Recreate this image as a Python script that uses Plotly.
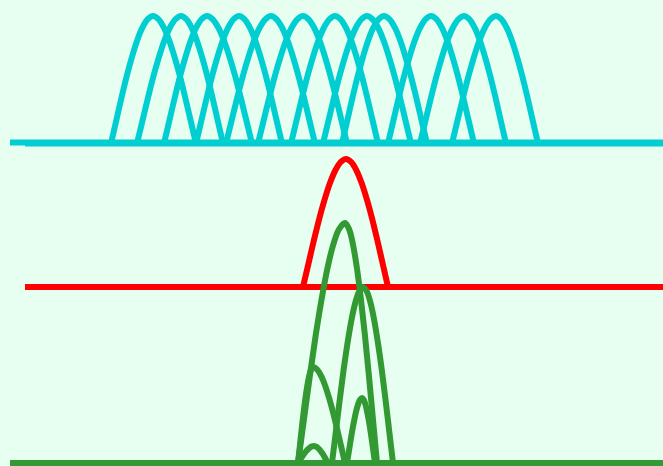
import plotly.graph_objects as go

# Canvas coordinates (x to the right, y downward)
W, H = 663, 466

# normalized half-bump profile (fraction of half-width -> fraction of height)
PROFILE_T = [0.0, 0.125, 0.25, 0.375, 0.5, 0.625, 0.75, 0.875, 1.0]
PROFILE_H = [0.0, 0.18, 0.36, 0.53, 0.68, 0.81, 0.91, 0.975, 1.0]

# Cyan row: baseline, peak height, bumps (left foot, peak x, right foot)
CYAN_BASE = 143.5
CYAN_AXIS = 142.5
CYAN_PEAK_Y = 16
CYAN_LEFT = [111, 137, 164, 196, 226, 258, 291, 323, 342, 388, 420, 452]
CYAN_PEAK = [153, 181, 207, 239, 271, 303, 335, 367, 384, 431, 464, 496]
CYAN_RIGHT = [196, 223, 252, 282, 315, 347, 378, 411, 427, 474, 506, 538]

# Red row
RED_BASE = 287
RED_PEAK_Y = 159
RED_LEFT = [303]
RED_PEAK = [346]
RED_RIGHT = [388]

# Green row
GREEN_BASE = 463
GREEN_LEFT = [298, 332, 298, 347, 298]
GREEN_PEAK = [345, 363, 313, 362, 314]
GREEN_RIGHT = [377, 393, 345, 375, 328]
GREEN_PEAK_Y = [223, 287, 367, 398, 446]

LINE_START = 25
AXIS_START = 10

CYAN = "#00CED1"
RED = "#FF0000"
GREEN = "#339933"
BG = "#E6FFF0"
LW = 6

fig = go.Figure()


def add_bump(left, peak, right, base, top, color):
    xs, ys = [], []
    for t, h in zip(PROFILE_T, PROFILE_H):
        xs.append(left + (peak - left) * t)
        ys.append(base - (base - top) * h)
    for t, h in zip(PROFILE_T[::-1][1:], PROFILE_H[::-1][1:]):
        xs.append(right - (right - peak) * t)
        ys.append(base - (base - top) * h)
    fig.add_trace(go.Scatter(x=xs, y=ys, mode="lines",
                             line=dict(color=color, width=LW, shape="spline", smoothing=1.0),
                             hoverinfo="skip", showlegend=False))


def add_base(x0, y, color):
    fig.add_trace(go.Scatter(x=[x0, W + 5], y=[y, y], mode="lines",
                             line=dict(color=color, width=LW),
                             hoverinfo="skip", showlegend=False))


# cyan
add_base(AXIS_START, CYAN_AXIS, CYAN)
add_base(LINE_START, CYAN_BASE, CYAN)
for l, p, r in zip(CYAN_LEFT, CYAN_PEAK, CYAN_RIGHT):
    add_bump(l, p, r, CYAN_BASE, CYAN_PEAK_Y, CYAN)

# red
add_base(LINE_START, RED_BASE, RED)
for l, p, r in zip(RED_LEFT, RED_PEAK, RED_RIGHT):
    add_bump(l, p, r, RED_BASE, RED_PEAK_Y, RED)

# green
add_base(AXIS_START, GREEN_BASE, GREEN)
for l, p, r, py in zip(GREEN_LEFT, GREEN_PEAK, GREEN_RIGHT, GREEN_PEAK_Y):
    add_bump(l, p, r, GREEN_BASE, py, GREEN)

fig.update_layout(
    width=W, height=H,
    margin=dict(l=0, r=0, t=0, b=0, pad=0),
    paper_bgcolor=BG, plot_bgcolor=BG,
    xaxis=dict(range=[0, W], visible=False, fixedrange=True),
    yaxis=dict(range=[H, 0], visible=False, fixedrange=True),
    showlegend=False,
)

fig.write_html(
    "out.html",
    config={"displayModeBar": False, "staticPlot": True},
    post_script="document.body.style.margin='0';document.body.style.padding='0';"
                "document.body.style.overflow='hidden';"
                "document.body.style.background='" + BG + "';",
)
